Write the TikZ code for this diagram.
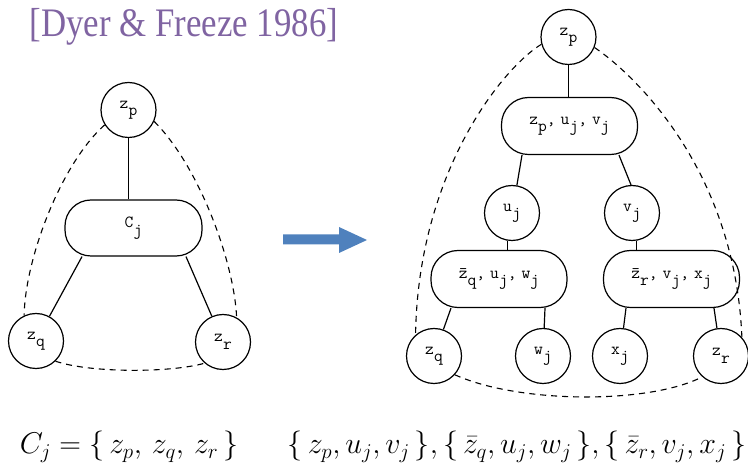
\RequirePackage{fix-cm}
\documentclass[tikz,border=0pt]{standalone}
\usepackage{fontspec}
\newfontfamily\titlefont[FakeStretch=0.86]{Liberation Serif}
\usetikzlibrary{calc}
\definecolor{titlepurple}{HTML}{8064A2}
\definecolor{arrowblue}{HTML}{4F81BD}
\newcommand\tsub[2]{#1\raisebox{-1ex}{#2}}
\newcommand\sep{,\hspace{0.3em}}
\begin{document}
\begin{tikzpicture}[x=1pt,y=-1pt,
  vtx/.style={draw,circle,minimum size=55pt,inner sep=0pt,line width=1.2pt,font=\fontsize{17}{17}\selectfont\ttfamily},
  bag/.style={draw,rectangle,rounded corners=27pt,minimum width=136pt,minimum height=57pt,inner sep=0pt,line width=1.2pt,font=\fontsize{17}{17}\selectfont\ttfamily},
  edge/.style={line width=1.2pt},
  dsh/.style={line width=1.1pt,dash pattern=on 6pt off 5pt},
  titlestyle/.style={text=titlepurple,font=\titlefont\fontsize{40.5}{42}\selectfont,inner sep=0pt},
  formula/.style={inner sep=0pt,font=\fontsize{30}{34}\selectfont}]
\useasboundingbox (0,0) rectangle (748,470);
% title
\node[titlestyle] (title) at (184,27) {[Dyer \& Freeze 1986]};
% left diagram
\node[vtx] (lzp) at (128.5,110) {\tsub{z}{p}};
\node[bag,rounded corners=26pt,minimum width=137pt,minimum height=56pt] (cj) at (133.5,228) {\tsub{C}{j}};
\node[vtx] (lzq) at (36,341) {\tsub{z}{q}};
\node[vtx] (lzr) at (223,342) {\tsub{z}{r}};
\draw[edge] (lzp.south) -- (lzp.south |- cj.north);
\draw[edge] ([xshift=-51.5pt]cj.south) -- (lzq);
\draw[edge] ([xshift=52.5pt]cj.south) -- (lzr);
\draw[dsh] (lzp.212) .. controls (60,165) and (25,260) .. (lzq.115);
\draw[dsh] (lzp.336) .. controls (198,165) and (234,260) .. (lzr.61);
\draw[dsh] (lzq.314) .. controls (90,373) and (170,373) .. (lzr.229);
% arrow
\fill[arrowblue] (283,234.5) -- (339,234.5) -- (339,227) -- (367,240) -- (339,253) -- (339,244.5) -- (283,244.5) -- cycle;
% right diagram
\node[vtx] (rzp) at (568.5,37) {\tsub{z}{p}};
\node[bag] (b1) at (569.5,126) {\tsub{z}{p}\sep\tsub{u}{j}\sep\tsub{v}{j}};
\node[vtx] (uj) at (512,213) {\tsub{u}{j}};
\node[vtx] (vj) at (632,213) {\tsub{v}{j}};
\node[bag] (b2) at (499,279) {\tsub{\=z}{q}\sep\tsub{u}{j}\sep\tsub{w}{j}};
\node[bag] (b3) at (671.5,279) {\tsub{\=z}{r}\sep\tsub{v}{j}\sep\tsub{x}{j}};
\node[vtx] (rzq) at (434,356) {\tsub{z}{q}};
\node[vtx] (wj) at (543,356) {\tsub{w}{j}};
\node[vtx] (xj) at (620,356) {\tsub{x}{j}};
\node[vtx] (rzr) at (721,356) {\tsub{z}{r}};
\draw[edge] (rzp.south) -- (rzp.south |- b1.north);
\draw[edge] ([xshift=-47.5pt]b1.south) -- (uj.80);
\draw[edge] ([xshift=49.5pt]b1.south) -- (vj.92);
\draw[edge] (uj.260) -- (uj.260 |- b2.north);
\draw[edge] (vj.280) -- (vj.280 |- b3.north);
\draw[edge] ([xshift=-48pt]b2.south) -- (rzq);
\draw[edge] ([xshift=46pt]b2.south) -- (wj);
\draw[edge] ([xshift=-45.5pt]b3.south) -- (xj);
\draw[edge] ([xshift=42.5pt]b3.south) -- (rzr);
\draw[dsh] (rzp.195) .. controls (500,70) and (418,175) .. (rzq.131);
\draw[dsh] (rzp.338) .. controls (635,75) and (735,170) .. (rzr.42);
\draw[dsh] (rzq.318) .. controls (520,404) and (650,404) .. (rzr.228);
% formulas
\node[formula] (f1) at (129,447) {$C_j = \{\, z_p,\, z_q,\, z_r \,\}$};
\node[formula] (f2) at (517,447) {$\{\, z_p, u_j, v_j \,\}, \{\, \bar z_q, u_j, w_j \,\}, \{\, \bar z_r, v_j, x_j \,\}$};
\end{tikzpicture}
\end{document}
